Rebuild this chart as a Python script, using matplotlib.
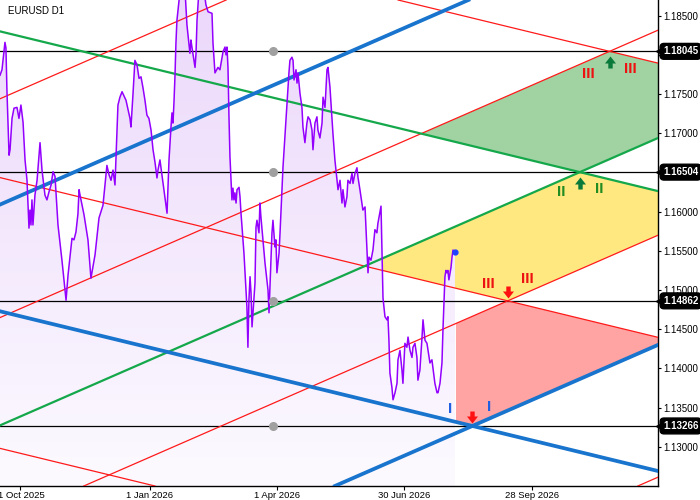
import datetime as dt
import numpy as np
import matplotlib
matplotlib.use("Agg")
import matplotlib.pyplot as plt
import matplotlib.dates as mdates
from matplotlib.colors import LinearSegmentedColormap
from matplotlib.patches import Polygon
from matplotlib.path import Path
from matplotlib.transforms import blended_transform_factory, ScaledTranslation

plt.rcParams['font.family'] = ['Liberation Sans', 'DejaVu Sans']

# EURUSD daily closes: days after 17 Sep 2025, price
start = dt.datetime(2025, 9, 17)
days = [0.0, 1.4, 3.5, 4.2, 4.9, 6.4, 7.1, 8.5, 9.9, 12.0,
        13.4, 14.8, 16.3, 17.7, 19.1, 20.5, 21.2, 21.9, 22.6, 23.3,
        24.7, 26.2, 28.3, 29.7, 31.8, 33.2, 34.6, 36.1, 37.5, 38.9,
        41.0, 43.8, 46.7, 48.1, 50.9, 52.3, 53.7, 55.1, 55.9, 56.6,
        59.4, 62.2, 64.3, 67.2, 70.0, 72.8, 74.2, 75.6, 77.1, 78.5,
        79.9, 81.3, 82.7, 83.4, 84.8, 86.3, 89.1, 91.9, 92.6, 94.0,
        95.4, 96.9, 98.3, 99.7, 101.1, 102.5, 103.9, 105.3, 106.8, 108.2,
        109.6, 111.0, 111.7, 113.1, 114.5, 115.9, 118.1, 118.8, 119.5, 120.9,
        121.6, 122.3, 123.0, 123.7, 124.4, 125.1, 126.6, 128.7, 130.8, 132.2,
        134.3, 135.0, 135.7, 137.9, 138.6, 139.3, 140.7, 142.1, 144.2, 145.6,
        147.1, 149.9, 150.6, 152.0, 154.1, 155.5, 157.7, 159.1, 159.8, 160.5,
        161.2, 161.9, 162.6, 164.0, 164.7, 165.4, 166.1, 166.9, 167.6, 169.0,
        169.7, 170.4, 172.5, 174.6, 175.3, 176.0, 176.8, 177.5, 178.2, 178.9,
        180.3, 181.0, 181.7, 183.1, 183.8, 184.5, 185.9, 187.4, 189.5, 190.2,
        190.9, 192.3, 193.0, 194.4, 195.1, 195.8, 197.3, 198.0, 200.1, 202.2,
        204.3, 205.0, 206.4, 207.2, 207.9, 209.3, 210.0, 210.7, 212.1, 213.5,
        214.2, 215.6, 217.0, 217.8, 219.2, 220.6, 221.3, 222.7, 224.1, 224.8,
        226.2, 227.7, 228.4, 229.8, 231.2, 231.9, 233.3, 235.4, 236.8, 239.0,
        240.4, 241.8, 242.5, 243.9, 245.3, 246.0, 247.5, 248.9, 249.6, 251.0,
        252.4, 253.1, 254.5, 256.6, 258.1, 258.8, 260.2, 260.9, 262.3, 263.7,
        265.1, 266.5, 267.2, 269.4, 270.1, 270.8, 272.2, 273.6, 274.3, 275.0,
        275.7, 277.1, 277.9, 279.3, 280.7, 281.4, 282.8, 284.2, 284.9, 286.3,
        287.7, 288.5, 289.9, 291.3, 292.0, 293.4, 294.8, 295.5, 296.9, 298.4,
        299.1, 300.5, 301.9, 304.0, 305.4, 307.5, 309.0, 309.7, 311.1, 312.5,
        313.2, 313.9, 314.6, 315.3, 316.0, 316.7, 317.4, 318.9, 319.6, 320.3,
        321.7]
close = [1.1774, 1.1781, 1.1816, 1.1809, 1.1755, 1.1672, 1.1679, 1.1719, 1.1732, 1.1733,
         1.1719, 1.1736, 1.1714, 1.1666, 1.1640, 1.1579, 1.1602, 1.1583, 1.1615, 1.1583,
         1.1621, 1.1640, 1.1688, 1.1653, 1.1621, 1.1615, 1.1625, 1.1634, 1.1651, 1.1645,
         1.1583, 1.1538, 1.1487, 1.1519, 1.1566, 1.1564, 1.1574, 1.1597, 1.1628, 1.1621,
         1.1596, 1.1564, 1.1515, 1.1545, 1.1592, 1.1608, 1.1634, 1.1659, 1.1647, 1.1640,
         1.1653, 1.1634, 1.1704, 1.1736, 1.1746, 1.1753, 1.1742, 1.1719, 1.1708, 1.1749,
         1.1793, 1.1787, 1.1770, 1.1772, 1.1758, 1.1742, 1.1723, 1.1719, 1.1704, 1.1679,
         1.1663, 1.1643, 1.1653, 1.1666, 1.1647, 1.1628, 1.1598, 1.1631, 1.1666, 1.1708,
         1.1726, 1.1713, 1.1739, 1.1772, 1.1815, 1.1844, 1.1870, 1.1896, 1.1883, 1.1838,
         1.1802, 1.1819, 1.1810, 1.1784, 1.1802, 1.1844, 1.1883, 1.1902, 1.1883, 1.1864,
         1.1855, 1.1853, 1.1815, 1.1777, 1.1784, 1.1781, 1.1804, 1.1810, 1.1800, 1.1810,
         1.1784, 1.1721, 1.1670, 1.1615, 1.1630, 1.1615, 1.1624, 1.1611, 1.1628, 1.1631,
         1.1619, 1.1598, 1.1547, 1.1478, 1.1427, 1.1487, 1.1517, 1.1496, 1.1453, 1.1471,
         1.1509, 1.1580, 1.1589, 1.1573, 1.1611, 1.1593, 1.1564, 1.1534, 1.1500, 1.1471,
         1.1504, 1.1573, 1.1589, 1.1555, 1.1564, 1.1522, 1.1547, 1.1573, 1.1657, 1.1717,
         1.1777, 1.1793, 1.1797, 1.1793, 1.1768, 1.1781, 1.1764, 1.1777, 1.1751, 1.1733,
         1.1708, 1.1688, 1.1713, 1.1721, 1.1717, 1.1704, 1.1679, 1.1713, 1.1721, 1.1704,
         1.1694, 1.1713, 1.1746, 1.1733, 1.1781, 1.1784, 1.1759, 1.1700, 1.1666, 1.1628,
         1.1640, 1.1611, 1.1628, 1.1606, 1.1619, 1.1640, 1.1636, 1.1649, 1.1636, 1.1649,
         1.1656, 1.1644, 1.1628, 1.1602, 1.1606, 1.1577, 1.1522, 1.1542, 1.1538, 1.1551,
         1.1577, 1.1573, 1.1585, 1.1607, 1.1551, 1.1490, 1.1466, 1.1462, 1.1466, 1.1436,
         1.1394, 1.1376, 1.1360, 1.1369, 1.1381, 1.1411, 1.1423, 1.1398, 1.1381, 1.1432,
         1.1427, 1.1440, 1.1423, 1.1414, 1.1427, 1.1432, 1.1414, 1.1385, 1.1398, 1.1440,
         1.1462, 1.1436, 1.1432, 1.1407, 1.1411, 1.1381, 1.1369, 1.1369, 1.1381, 1.1407,
         1.1449, 1.1483, 1.1517, 1.1525, 1.1522, 1.1525, 1.1513, 1.1529, 1.1542, 1.1551,
         1.1548]

# horizontal levels and their right-hand labels
levels = [1.18045, 1.16504, 1.14862, 1.13266]
level_dot_date = "2026-03-29"

# trend lines: anchor (date, price), all share the same two slopes (price per day)
up_slope = 7.88e-5
down_slope = -4.38e-5
red_up = [("2025-09-17", 1.1744), ("2026-11-22", 1.18045), ("2026-09-11", 1.14862), ("2026-12-12", 1.1250)]
red_down = [("2026-11-22", 1.18045), ("2026-09-11", 1.14862), ("2025-09-17", 1.1298)]
green_up = [("2026-11-01", 1.16504)]
green_down = [("2026-11-01", 1.16504)]
blue_up = [("2025-09-17", 1.1609), ("2026-08-17", 1.13266)]
blue_down = [("2026-08-17", 1.13266)]

# signal arrows at the crossing points
sig_dates = ["2026-08-17", "2026-09-11", "2026-11-01", "2026-11-22"]
sig_prices = [1.13266, 1.14862, 1.16504, 1.18045]
sig_dirs = ["down", "down", "up", "up"]

# wave labels: text, colour, date, price
wave_labels = [("I", "#1f5fe0", "2026-08-01", 1.1348), ("I", "#1f5fe0", "2026-08-29", 1.1351),
               ("III", "#ee1111", "2026-08-28", 1.1508), ("III", "#ee1111", "2026-09-25", 1.1514),
               ("II", "#218c21", "2026-10-19", 1.1625), ("II", "#218c21", "2026-11-15", 1.1629),
               ("III", "#ee1111", "2026-11-07", 1.1776), ("III", "#ee1111", "2026-12-07", 1.1782)]

y_ticks = [1.130, 1.135, 1.140, 1.145, 1.150, 1.155, 1.160, 1.165, 1.170, 1.175, 1.180, 1.185]
x_tick_dates = ["2025-10-01", "2026-01-01", "2026-04-01", "2026-06-30", "2026-09-28"]
x_tick_labels = ["1 Oct 2025", "1 Jan 2026", "1 Apr 2026", "30 Jun 2026", "28 Sep 2026"]


def to_num(s):
    return mdates.date2num(dt.datetime.fromisoformat(s))


def make_line(anchor, slope):
    return (to_num(anchor[0]), anchor[1], slope)


def value(line, x):
    return line[1] + line[2] * (x - line[0])


def cross(a, b):
    x = (b[1] - a[1] + a[2] * a[0] - b[2] * b[0]) / (a[2] - b[2])
    return (x, value(a, x))


R_up = [make_line(a, up_slope) for a in red_up]
R_dn = [make_line(a, down_slope) for a in red_down]
G_up = make_line(green_up[0], up_slope)
G_dn = make_line(green_down[0], down_slope)
B_up = [make_line(a, up_slope) for a in blue_up]
B_dn = make_line(blue_down[0], down_slope)

x0 = mdates.date2num(start)
x1 = to_num("2026-12-26T06:00")
y0, y1 = 1.1250, 1.1870
xs = x0 + np.array(days)

fig = plt.figure(figsize=(7, 5), dpi=100)
ax = fig.add_axes([0, 14 / 500, 658 / 700, 486 / 500])

# coloured zones between the fans (the lowest one starts at the last bar)
zones = [("#a0d2a2", G_dn, R_up[1], R_dn[0], G_up, False),
         ("#ffe880", R_dn[1], G_up, G_dn, R_up[2], False),
         ("#ffa3a3", B_dn, R_up[2], R_dn[1], B_up[1], True)]
for color, f_low, r_high, f_high, r_low, from_last in zones:
    top_right = [cross(r_high, f_high), (x1, value(f_high, x1)),
                 (x1, value(r_low, x1)), cross(f_low, r_low)]
    if from_last:
        xl = xs[-1] + 0.7
        verts = [(xl, value(f_low, xl)), (xl, value(r_high, xl))] + top_right
    else:
        verts = [cross(f_low, r_high)] + top_right
    ax.add_patch(Polygon(verts, closed=True, facecolor=color, edgecolor="none", zorder=1))

# price area with a soft vertical gradient
area = ax.fill_between(xs, close, y0, facecolor="none", edgecolor="none", zorder=2)
cmap = LinearSegmentedColormap.from_list("lav", ["#fcfaff", "#ecd8fb"])
im = ax.imshow(np.linspace(0, 1, 256).reshape(-1, 1), cmap=cmap, origin="lower",
               extent=[x0, x1, y0, y1], aspect="auto", zorder=2)
im.set_clip_path(area.get_paths()[0], transform=ax.transData)

for lv in levels:
    ax.axhline(lv, color="black", lw=0.9, zorder=3)

for ln in R_up + R_dn:
    ax.axline((ln[0], ln[1]), slope=ln[2], color="#ff1a1a", lw=0.9, zorder=3)
for ln in [G_up, G_dn]:
    ax.axline((ln[0], ln[1]), slope=ln[2], color="#14a84b", lw=1.6, zorder=3.1)
for ln in B_up + [B_dn]:
    ax.axline((ln[0], ln[1]), slope=ln[2], color="#1874cd", lw=2.7, zorder=3.2)

ax.plot(xs, close, color="#9400ff", lw=1.1, zorder=4)
ax.plot(xs[-1], close[-1], "o", color="#2040ff", ms=3.5, zorder=4.5)

ax.plot([to_num(level_dot_date)] * len(levels), levels, "o", color="#a0a0a0", ms=5.5, zorder=5)

down_arrow = Path([(0, 3), (-5.5, 10), (-2.2, 10), (-2.2, 15), (2.2, 15), (2.2, 10), (5.5, 10), (0, 3)])
up_arrow = Path([(0, -5), (-5.5, -12), (-2.2, -12), (-2.2, -17), (2.2, -17), (2.2, -12), (5.5, -12), (0, -5)])
for d, p, kind in zip(sig_dates, sig_prices, sig_dirs):
    if kind == "down":
        ax.plot(to_num(d), p, marker=down_arrow, ms=21.6, color="#ff1010", mew=0, ls="none", zorder=6)
    else:
        ax.plot(to_num(d), p, marker=up_arrow, ms=24.5, color="#0a7a3a", mew=0, ls="none", zorder=6)

for txt, col, d, p in wave_labels:
    ax.text(to_num(d), p, txt, color=col, fontsize=11, fontweight="bold",
            ha="center", va="center", zorder=6)

ax.set_xlim(x0, x1)
ax.set_ylim(y0, y1)

ax.set_xticks([to_num(d) for d in x_tick_dates])
ax.set_xticklabels(x_tick_labels)
ax.set_yticks(y_ticks)
# tick labels lying under the level boxes are hidden, as in the terminal
ax.set_yticklabels(["" if any(abs(v - h) < 0.001 for h in levels) else "%.5f" % v for v in y_ticks])
ax.yaxis.tick_right()
ax.tick_params(axis="y", direction="out", length=2.5, width=0.8, pad=1.5, labelsize=7)
ax.tick_params(axis="x", direction="out", length=3, width=0.8, pad=0.3, labelsize=6.8)
for side in ["left", "top"]:
    ax.spines[side].set_visible(False)
for side in ["right", "bottom"]:
    ax.spines[side].set_linewidth(1.0)

# first date label sits a touch right, like the terminal clips it
first = ax.get_xticklabels()[0]
first.set_transform(first.get_transform() + ScaledTranslation(2 / 100, 0, fig.dpi_scale_trans))

trans = blended_transform_factory(ax.transAxes, ax.transData)
for lv in levels:
    ax.plot([1.0 + 2 / 658], [lv], marker="<", ms=6, color="black", transform=trans,
            clip_on=False, zorder=9)
    ax.text(1.0 + 5 / 658, lv, "%.5f" % lv, transform=trans, color="white", fontsize=7,
            fontweight="bold", ha="left", va="center", clip_on=False, zorder=10,
            bbox=dict(boxstyle="round,pad=0.3,rounding_size=0.4", fc="black", ec="black"))

ax.text(8 / 658, 1 - 11 / 486, "EURUSD D1", transform=ax.transAxes, fontsize=7,
        ha="left", va="center", zorder=10)

fig.savefig("out.png", dpi=100)
